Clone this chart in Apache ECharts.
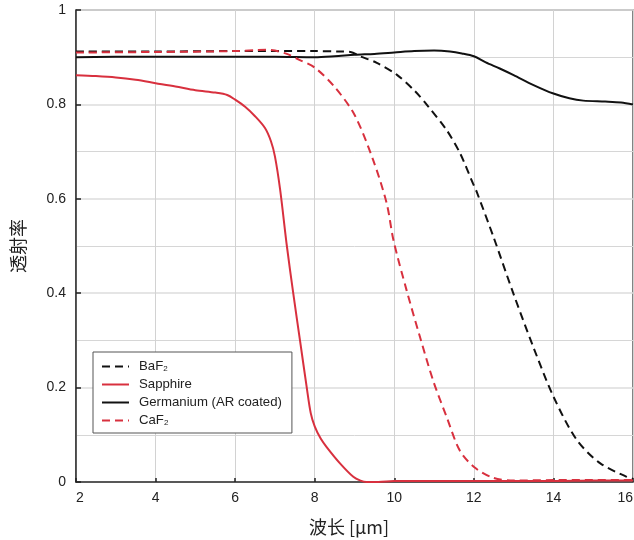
<!DOCTYPE html>
<html>
<head>
<meta charset="utf-8">
<script src="https://cdn.jsdelivr.net/npm/echarts@6/dist/echarts.min.js"></script>
<style>
html,body{margin:0;padding:0;background:#fff;}
#chart{width:634px;height:540px;}
</style>
</head>
<body>
<div id="chart"></div>
<script>
// ---- data ----
var baf2X = [2, 4, 6, 8, 8.6, 8.9, 9.14, 9.56, 10.06, 10.52, 10.85, 11.32, 11.65, 11.98, 12.07, 12.49, 12.99, 13.49, 14.0, 14.58, 15.17, 15.84, 16];
var baf2Y = [0.912, 0.912, 0.913, 0.913, 0.912, 0.911, 0.902, 0.888, 0.863, 0.828, 0.796, 0.745, 0.697, 0.632, 0.615, 0.52, 0.40, 0.287, 0.181, 0.09, 0.04, 0.011, 0.007];

var sapphireX = [2, 2.5, 3, 3.5, 4, 4.5, 5, 5.5, 5.8, 6, 6.25, 6.5, 6.75, 6.9, 7.0, 7.13, 7.3, 7.46, 7.63, 7.8, 7.9, 8.0, 8.15, 8.3, 8.63, 8.97, 9.15, 9.3, 9.6, 10, 11, 12, 13, 14, 15, 16];
var sapphireY = [0.862, 0.86, 0.857, 0.852, 0.845, 0.838, 0.83, 0.825, 0.82, 0.81, 0.795, 0.775, 0.75, 0.722, 0.69, 0.62, 0.50, 0.40, 0.30, 0.20, 0.146, 0.118, 0.092, 0.074, 0.04, 0.011, 0.003, 0.0, 0.0, 0.002, 0.002, 0.002, 0.002, 0.002, 0.003, 0.003];

var germaniumX = [2, 3, 4, 5, 6, 7, 8, 8.5, 9, 9.5, 10, 10.5, 11, 11.4, 11.7, 12, 12.3, 12.65, 13, 13.5, 14, 14.4, 14.75, 15.3, 15.7, 16];
var germaniumY = [0.90, 0.901, 0.901, 0.901, 0.901, 0.901, 0.90, 0.902, 0.905, 0.907, 0.910, 0.913, 0.914, 0.912, 0.908, 0.902, 0.889, 0.876, 0.862, 0.841, 0.823, 0.813, 0.808, 0.806, 0.804, 0.80];

var caf2X = [2, 4, 6, 6.5, 6.8, 7.0, 7.3, 7.6, 8.0, 8.5, 9.0, 9.47, 9.81, 9.98, 10.31, 10.65, 10.98, 11.32, 11.65, 12.03, 12.48, 13, 14, 15, 16];
var caf2Y = [0.91, 0.911, 0.913, 0.915, 0.916, 0.914, 0.907, 0.895, 0.878, 0.837, 0.778, 0.682, 0.59, 0.512, 0.406, 0.306, 0.214, 0.137, 0.066, 0.03, 0.009, 0.003, 0.004, 0.004, 0.004];

var seriesNames = ['BaF2', 'Sapphire', 'Germanium (AR coated)', 'CaF2'];
var xTicks = [2, 4, 6, 8, 10, 12, 14, 16];
var yTicks = [0, 0.2, 0.4, 0.6, 0.8, 1];
var xName = '波长 [μm]';
var yName = '透射率';

function pairs(xs, ys) { return xs.map(function (x, i) { return [x, ys[i]]; }); }

var RED = '#d8303e';
var BLACK = '#111111';
var FONT = '"Liberation Sans", Arial, sans-serif';
var CJK = '"Noto Sans CJK SC", "Liberation Sans", sans-serif';

var chart = echarts.init(document.getElementById('chart'), null, {renderer: 'canvas'});
function mk(name, xs, ys, color, dash) {
  return {
    name: name, type: 'line', data: pairs(xs, ys),
    smooth: 0.3, showSymbol: false, symbol: 'none',
    lineStyle: {color: color, width: 2, type: dash ? [8, 5] : 'solid'},
    itemStyle: {color: color},
    z: 3
  };
}
chart.setOption({
  animation: false,
  backgroundColor: '#fff',
  grid: {left: 76, right: 1, top: 10, bottom: 58, containLabel: false, outerBoundsMode: 'none',
    show: true, borderColor: '#333', borderWidth: 1.2, backgroundColor: 'transparent'},
  legend: {
    orient: 'vertical', left: 93, top: 352,
    data: seriesNames,
    itemWidth: 27, itemHeight: 12, itemGap: 5,
    padding: [8, 10, 6, 8],
    borderColor: '#555', borderWidth: 1, backgroundColor: '#fff',
    itemStyle: {opacity: 0},
    textStyle: {fontFamily: FONT, fontSize: 13.2, color: '#222', padding: [0, 0, 0, 5],
      rich: {s: {fontFamily: FONT, fontSize: 8, color: '#222', padding: [4, 0, 0, 0]}}},
    formatter: function (n) { return n.replace(/2$/, '{s|2}'); }
  },
  xAxis: {
    type: 'value', min: xTicks[0], max: xTicks[xTicks.length - 1], interval: 2,
    name: xName, nameLocation: 'middle', nameGap: 36,
    nameTextStyle: {fontFamily: CJK, fontSize: 18, color: '#222', padding: [0, 11, 0, 0]},
    axisLine: {show: true, lineStyle: {color: '#333', width: 1.5}},
    axisTick: {show: true, inside: true, length: 4, lineStyle: {color: '#222', width: 1.5}},
    axisLabel: {fontFamily: FONT, fontSize: 14, color: '#222', margin: 9, alignMinLabel: 'left', alignMaxLabel: 'right'},
    splitLine: {show: true, lineStyle: {color: '#d2d2d2', width: 1}}
  },
  yAxis: {
    type: 'value', min: yTicks[0], max: yTicks[yTicks.length - 1], interval: 0.2,
    name: yName, nameLocation: 'middle', nameGap: 49, nameRotate: 90,
    nameTextStyle: {fontFamily: CJK, fontSize: 18, color: '#222'},
    axisLine: {show: true, lineStyle: {color: '#333', width: 1.5}},
    axisTick: {show: true, inside: true, length: 5, lineStyle: {color: '#222', width: 1.5}},
    axisLabel: {fontFamily: FONT, fontSize: 14, color: '#222', margin: 10},
    splitLine: {show: true, lineStyle: {color: '#dddddd', width: 1.5}},
    minorTick: {show: false, splitNumber: 2},
    minorSplitLine: {show: true, lineStyle: {color: '#d6d6d6', width: 1}}
  },
  series: [
    mk(seriesNames[0], baf2X, baf2Y, BLACK, true),
    mk(seriesNames[1], sapphireX, sapphireY, RED, false),
    mk(seriesNames[2], germaniumX, germaniumY, BLACK, false),
    mk(seriesNames[3], caf2X, caf2Y, RED, true)
  ]
});
</script>
</body>
</html>
